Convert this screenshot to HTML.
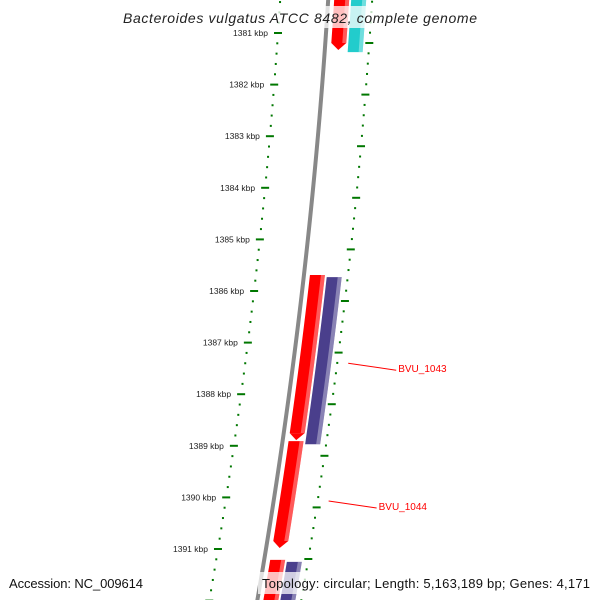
<!DOCTYPE html>
<html><head><meta charset="utf-8"><style>
body{margin:0;background:#fff}
svg{display:block;font-family:"Liberation Sans","DejaVu Sans",sans-serif}
</style></head><body>
<svg id="c" width="600" height="600" viewBox="0 0 600 600"></svg>
<script>
const tickKbp=[1381,1382,1383,1384,1385,1386,1387,1388,1389,1390,1391];
const geneStart=[1380.0,1385.69,1388.91,1391.21];
const geneEnd=[1381.33,1388.89,1390.98,1392.5];
const geneStrand=["fwd","fwd","fwd","fwd"];
const rGeneStart=[1380.0,1385.73,1391.25];
const rGeneEnd=[1381.37,1388.97,1392.5];
const rGeneColor=["#22cccc","#4a3f8c","#4a3f8c"];
const labelNames=["BVU_1043","BVU_1044"];
const labelKbp=[1387.4,1390.07];
const NS="http://www.w3.org/2000/svg";
const svg=document.getElementById('c');
const Y=k=>33+(k-1381)*51.6;
const X=y=>278-0.0689*(y-33)-9.19e-5*(y-33)*(y-33);
function mk(t,a,p){const e=document.createElementNS(NS,t);for(const k in a)e.setAttribute(k,a[k]);(p||svg).appendChild(e);return e;}
function band(y0,y1,o0,o1){const pts=[];for(let y=y0;y<=y1;y+=5)pts.push([X(y)+o0,y]);pts.push([X(y1)+o0,y1]);for(let y=y1;y>=y0;y-=5)pts.push([X(y)+o1,y]);pts.push([X(y0)+o1,y0]);return pts.map(p=>p.join(',')).join(' ');}
const bb=mk('polyline',{points:(()=>{let s=[];for(let y=-10;y<=610;y+=5)s.push((X(y)+48)+','+y);return s.join(' ');})(),fill:'none',stroke:'#888',"stroke-width":4});

for(let k=1380;k<=1392.01;k+=0.2){
 const kk=Math.round(k*5)/5, major=Math.abs(kk-Math.round(kk))<0.01;
 [[0,0],[92,10]].forEach(([off,dy])=>{
  const y=Y(kk)+dy; if(y<-5||y>605)return;
  const x=X(y)+off;
  const t=mk('line',{x1:x-(major?4:1),y1:y,x2:x+(major?4:1),y2:y,stroke:'#007700',"stroke-width":2});
  
 });
}
tickKbp.forEach(k=>{const y=Y(k);const t=mk('text',{x:X(y)-10,y:y+3,"font-size":8.5,fill:'#222',"text-anchor":'end'});t.textContent=k+' kbp';
});
function gene(y0,y1,o0,o1,col,arrow,name){
 const g=mk('g',{});
 const ye=arrow?y1-7:y1;
 mk('polygon',{points:band(y0,ye,o0,o1),fill:col},g);
 mk('polygon',{points:band(y0,ye,o1-4,o1),fill:'#fff',opacity:0.35},g);
 if(arrow){const xa=X(ye);mk('polygon',{points:`${xa+o0},${ye} ${xa+o1},${ye} ${X(y1)+(o0+o1)/2},${y1}`,fill:col},g);}
}
geneStart.forEach((s,i)=>gene(Y(s),Y(geneEnd[i]),54,69,'#ff0000',true,'forward-gene'));
rGeneStart.forEach((s,i)=>gene(Y(s),Y(rGeneEnd[i]),71,86,rGeneColor[i],false,'reverse-gene'));
labelNames.forEach((n,i)=>{const y=Y(labelKbp[i]);const x=X(y)+103;
 const l=mk('line',{x1:x,y1:y,x2:x+48,y2:y+7,stroke:'#ff0000'});
 const t=mk('text',{x:x+50,y:y+9,"font-size":10,fill:'#ff0000'});t.textContent=n;});
mk('rect',{x:115,y:6,width:370,height:22,fill:'#fff',opacity:0.75});
let t=mk('text',{x:300,y:23,"font-size":14,"font-style":'italic',fill:'#222',"text-anchor":'middle',textLength:354});t.textContent='Bacteroides vulgatus ATCC 8482, complete genome';
mk('rect',{x:4,y:572,width:148,height:22,fill:'#fff',opacity:0.75});
t=mk('text',{x:9,y:588,"font-size":13,fill:'#111',textLength:134});t.textContent='Accession: NC_009614';
mk('rect',{x:258,y:572,width:342,height:22,fill:'#fff',opacity:0.75});
t=mk('text',{x:262,y:588,"font-size":13,fill:'#111',textLength:328});t.textContent='Topology: circular; Length: 5,163,189 bp; Genes: 4,171';
</script>
</body></html>
